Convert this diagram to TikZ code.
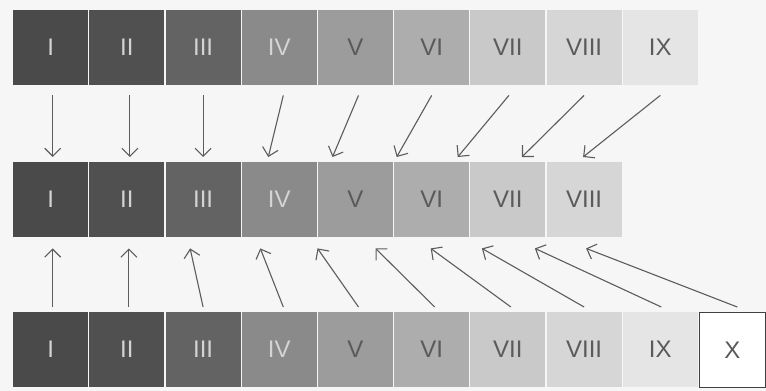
\documentclass[tikz,border=0pt]{standalone}
\usepackage{fontspec}
\setmainfont{Liberation Sans}
\usetikzlibrary{arrows.meta}
\definecolor{bg}{HTML}{F6F6F6}
\definecolor{g1}{HTML}{4A4A4A}
\definecolor{g2}{HTML}{505050}
\definecolor{g3}{HTML}{636363}
\definecolor{g4}{HTML}{8A8A8A}
\definecolor{g5}{HTML}{9C9C9C}
\definecolor{g6}{HTML}{ADADAD}
\definecolor{g7}{HTML}{C9C9C9}
\definecolor{g8}{HTML}{D6D6D6}
\definecolor{g9}{HTML}{E5E5E5}
\definecolor{tl}{HTML}{D4D4D4}
\definecolor{td}{HTML}{5A5A5A}
\definecolor{arrowgray}{HTML}{5C5C5C}
\begin{document}
\begin{tikzpicture}[x=1pt,y=-1pt,
  box/.style={draw=none, minimum width=75pt, minimum height=75pt, inner sep=0pt,
    anchor=north west, font=\fontsize{24}{24}\selectfont},
  arr/.style={draw=arrowgray, line width=1.1pt,
    -{Straight Barb[length=8pt,width=16pt,line width=1.1pt]}}]
\fill[bg] (0,0) rectangle (766,391);
\useasboundingbox (0,0) rectangle (766,391);
% top row
\foreach \i/\t/\c/\tc in {1/I/g1/tl,2/II/g2/tl,3/III/g3/tl,4/IV/g4/tl,5/V/g5/td,6/VI/g6/td,7/VII/g7/td,8/VIII/g8/td,9/IX/g9/td}
  \node[box, fill=\c, text=\tc] (t\i) at ({13+76.2*(\i-1)},10) {\t};
% middle row
\foreach \i/\t/\c/\tc in {1/I/g1/tl,2/II/g2/tl,3/III/g3/tl,4/IV/g4/tl,5/V/g5/td,6/VI/g6/td,7/VII/g7/td,8/VIII/g8/td}
  \node[box, fill=\c, text=\tc] (m\i) at ({13+76.2*(\i-1)},162) {\t};
% bottom row
\foreach \i/\t/\c/\tc in {1/I/g1/tl,2/II/g2/tl,3/III/g3/tl,4/IV/g4/tl,5/V/g5/td,6/VI/g6/td,7/VII/g7/td,8/VIII/g8/td,9/IX/g9/td}
  \node[box, fill=\c, text=\tc] (b\i) at ({13+76.2*(\i-1)},312) {\t};
\node[box, fill=white, draw=black!75, line width=0.6pt, minimum width=66pt, text=td] (b10) at (699,312) {X};
% top -> middle
\draw[arr] ([xshift=2pt,yshift=-10pt]t1.south) -- ([xshift=2pt,yshift=5pt]m1.north);
\draw[arr] ([xshift=3pt,yshift=-10pt]t2.south) -- ([xshift=3pt,yshift=5pt]m2.north);
\draw[arr] ([xshift=0pt,yshift=-10pt]t3.south) -- ([xshift=0pt,yshift=5pt]m3.north);
\draw[arr] ([xshift=4pt,yshift=-10pt]t4.south) -- ([xshift=-11pt,yshift=5pt]m4.north);
\draw[arr] ([xshift=3pt,yshift=-10pt]t5.south) -- ([xshift=-23pt,yshift=5pt]m5.north);
\draw[arr] ([xshift=0pt,yshift=-10pt]t6.south) -- ([xshift=-35pt,yshift=5pt]m6.north);
\draw[arr] ([xshift=1pt,yshift=-10pt]t7.south) -- ([xshift=26pt,yshift=5pt]m6.north);
\draw[arr] ([xshift=0pt,yshift=-10pt]t8.south) -- ([xshift=14pt,yshift=5pt]m7.north);
\draw[arr] ([xshift=0pt,yshift=-10pt]t9.south) -- ([xshift=-1pt,yshift=5pt]m8.north);
% bottom -> middle
\draw[arr] ([xshift=2pt,yshift=5pt]b1.north) -- ([xshift=2pt,yshift=-11pt]m1.south);
\draw[arr] ([xshift=2pt,yshift=5pt]b2.north) -- ([xshift=2pt,yshift=-11pt]m2.south);
\draw[arr] ([xshift=0pt,yshift=5pt]b3.north) -- ([xshift=-13pt,yshift=-11pt]m3.south);
\draw[arr] ([xshift=4pt,yshift=5pt]b4.north) -- ([xshift=-19pt,yshift=-11pt]m4.south);
\draw[arr] ([xshift=3pt,yshift=5pt]b5.north) -- ([xshift=-38pt,yshift=-11pt]m5.south);
\draw[arr] ([xshift=3pt,yshift=5pt]b6.north) -- ([xshift=20pt,yshift=-11pt]m5.south);
\draw[arr] ([xshift=3pt,yshift=5pt]b7.north) -- ([xshift=-1pt,yshift=-11pt]m6.south);
\draw[arr] ([xshift=0pt,yshift=5pt]b8.north) -- ([xshift=-26pt,yshift=-11pt]m7.south);
\draw[arr] ([xshift=1pt,yshift=5pt]b9.north) -- ([xshift=27pt,yshift=-11pt]m7.south);
\draw[arr] ([xshift=5pt,yshift=5pt]b10.north) -- ([xshift=2pt,yshift=-11pt]m8.south);
\end{tikzpicture}
\end{document}
